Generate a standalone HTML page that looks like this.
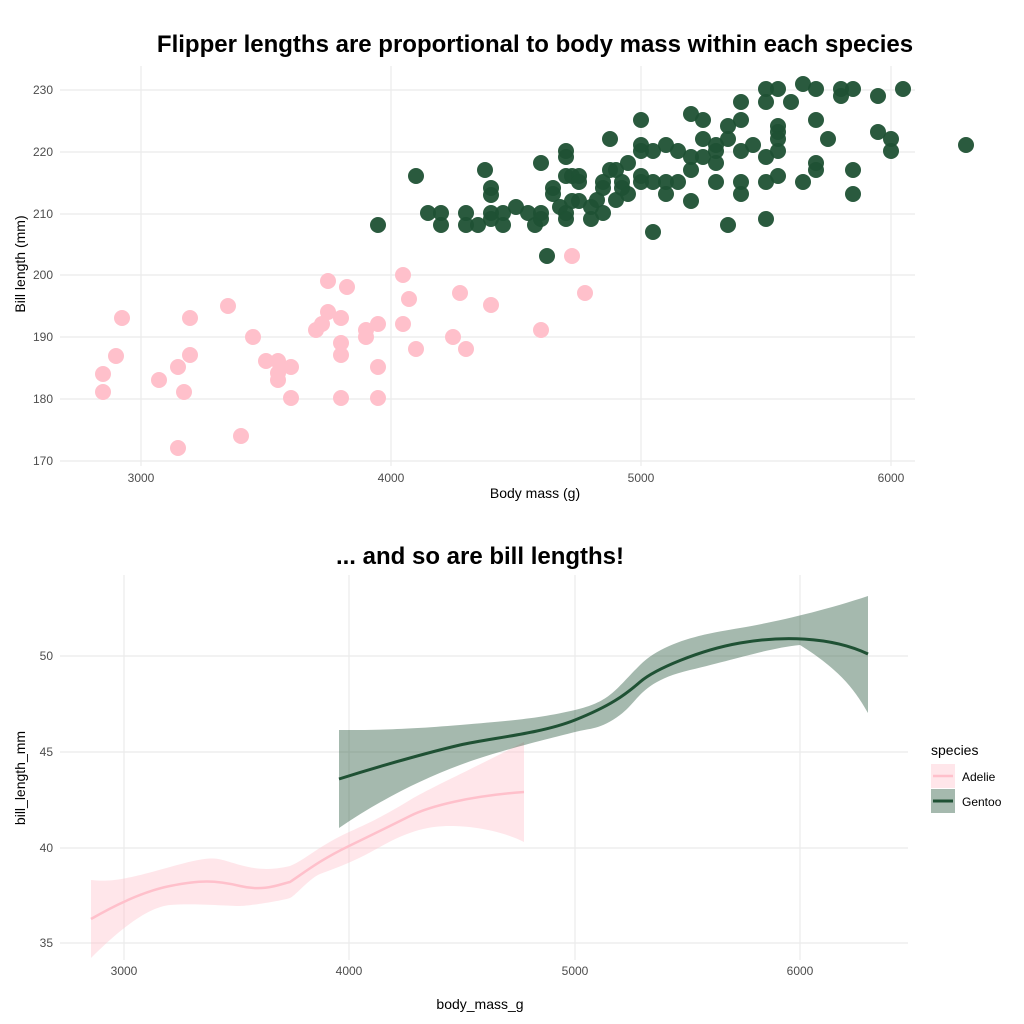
<!DOCTYPE html>
<html><head><meta charset="utf-8"><style>
html,body{margin:0;padding:0;background:#fff}
svg{display:block;font-family:"Liberation Sans",sans-serif}
.t{font-size:12px;fill:#4d4d4d}
.g{stroke:#ebebeb;stroke-width:1.2}
.ttl{font-size:24px;font-weight:bold;fill:#000}
.al{font-size:14px;fill:#000}
</style></head><body>
<svg width="1024" height="1024" viewBox="0 0 1024 1024" xmlns="http://www.w3.org/2000/svg">
<text class="ttl" x="535" y="52" text-anchor="middle">Flipper lengths are proportional to body mass within each species</text>
<g>
<line class="g" x1="60" x2="915" y1="90" y2="90"/><line class="g" x1="60" x2="915" y1="152" y2="152"/>
<line class="g" x1="60" x2="915" y1="214" y2="214"/><line class="g" x1="60" x2="915" y1="275" y2="275"/>
<line class="g" x1="60" x2="915" y1="337" y2="337"/><line class="g" x1="60" x2="915" y1="399" y2="399"/>
<line class="g" x1="60" x2="915" y1="461" y2="461"/>
<line class="g" x1="141" x2="141" y1="66" y2="466"/><line class="g" x1="391" x2="391" y1="66" y2="466"/>
<line class="g" x1="641" x2="641" y1="66" y2="466"/><line class="g" x1="891" x2="891" y1="66" y2="466"/>
</g>
<g class="t" text-anchor="end">
<text x="53" y="94">230</text><text x="53" y="156">220</text><text x="53" y="218">210</text><text x="53" y="279">200</text><text x="53" y="341">190</text><text x="53" y="403">180</text><text x="53" y="465">170</text>
</g>
<g class="t" text-anchor="middle">
<text x="141" y="482">3000</text><text x="391" y="482">4000</text><text x="641" y="482">5000</text><text x="891" y="482">6000</text>
</g>
<text class="al" x="535" y="498" text-anchor="middle">Body mass (g)</text>
<text class="al" x="25" y="264" text-anchor="middle" transform="rotate(-90 25 264)">Bill length (mm)</text>
<g fill="#ffc0cb">
<circle cx="103" cy="374" r="8"/><circle cx="103" cy="392" r="8"/><circle cx="116" cy="356" r="8"/><circle cx="122" cy="318" r="8"/><circle cx="159" cy="380" r="8"/><circle cx="178" cy="367" r="8"/><circle cx="178" cy="448" r="8"/><circle cx="184" cy="392" r="8"/><circle cx="190" cy="318" r="8"/><circle cx="190" cy="355" r="8"/><circle cx="228" cy="306" r="8"/><circle cx="241" cy="436" r="8"/><circle cx="253" cy="337" r="8"/><circle cx="266" cy="361" r="8"/><circle cx="278" cy="361" r="8"/><circle cx="278" cy="373" r="8"/><circle cx="278" cy="380" r="8"/><circle cx="291" cy="367" r="8"/><circle cx="291" cy="398" r="8"/><circle cx="316" cy="330" r="8"/><circle cx="322" cy="324" r="8"/><circle cx="328" cy="281" r="8"/><circle cx="328" cy="312" r="8"/><circle cx="341" cy="318" r="8"/><circle cx="341" cy="343" r="8"/><circle cx="341" cy="355" r="8"/><circle cx="341" cy="398" r="8"/><circle cx="347" cy="287" r="8"/><circle cx="366" cy="330" r="8"/><circle cx="366" cy="337" r="8"/><circle cx="378" cy="324" r="8"/><circle cx="378" cy="367" r="8"/><circle cx="378" cy="398" r="8"/><circle cx="403" cy="275" r="8"/><circle cx="403" cy="324" r="8"/><circle cx="409" cy="299" r="8"/><circle cx="416" cy="349" r="8"/><circle cx="453" cy="337" r="8"/><circle cx="460" cy="293" r="8"/><circle cx="466" cy="349" r="8"/><circle cx="491" cy="305" r="8"/><circle cx="541" cy="330" r="8"/><circle cx="572" cy="256" r="8"/><circle cx="585" cy="293" r="8"/>
</g>
<g fill="#1f5134" fill-opacity="0.95">
<circle cx="378" cy="225" r="8"/><circle cx="416" cy="176" r="8"/><circle cx="428" cy="213" r="8"/><circle cx="441" cy="213" r="8"/><circle cx="441" cy="225" r="8"/><circle cx="466" cy="213" r="8"/><circle cx="466" cy="225" r="8"/><circle cx="478" cy="225" r="8"/><circle cx="485" cy="170" r="8"/><circle cx="491" cy="188" r="8"/><circle cx="491" cy="195" r="8"/><circle cx="491" cy="213" r="8"/><circle cx="491" cy="219" r="8"/><circle cx="503" cy="213" r="8"/><circle cx="503" cy="225" r="8"/><circle cx="516" cy="207" r="8"/><circle cx="528" cy="213" r="8"/><circle cx="535" cy="225" r="8"/><circle cx="541" cy="213" r="8"/><circle cx="541" cy="219" r="8"/><circle cx="541" cy="163" r="8"/><circle cx="547" cy="256" r="8"/><circle cx="553" cy="188" r="8"/><circle cx="553" cy="194" r="8"/><circle cx="560" cy="207" r="8"/><circle cx="566" cy="151" r="8"/><circle cx="566" cy="157" r="8"/><circle cx="566" cy="176" r="8"/><circle cx="566" cy="213" r="8"/><circle cx="566" cy="219" r="8"/><circle cx="572" cy="201" r="8"/><circle cx="572" cy="176" r="8"/><circle cx="579" cy="176" r="8"/><circle cx="579" cy="182" r="8"/><circle cx="579" cy="201" r="8"/><circle cx="591" cy="219" r="8"/><circle cx="591" cy="207" r="8"/><circle cx="597" cy="200" r="8"/><circle cx="603" cy="182" r="8"/><circle cx="603" cy="188" r="8"/><circle cx="603" cy="213" r="8"/><circle cx="610" cy="139" r="8"/><circle cx="610" cy="170" r="8"/><circle cx="616" cy="170" r="8"/><circle cx="616" cy="200" r="8"/><circle cx="622" cy="182" r="8"/><circle cx="622" cy="188" r="8"/><circle cx="628" cy="194" r="8"/><circle cx="628" cy="163" r="8"/><circle cx="641" cy="120" r="8"/><circle cx="641" cy="145" r="8"/><circle cx="641" cy="151" r="8"/><circle cx="641" cy="176" r="8"/><circle cx="641" cy="182" r="8"/><circle cx="653" cy="182" r="8"/><circle cx="653" cy="151" r="8"/><circle cx="653" cy="232" r="8"/><circle cx="666" cy="145" r="8"/><circle cx="666" cy="182" r="8"/><circle cx="666" cy="194" r="8"/><circle cx="678" cy="182" r="8"/><circle cx="678" cy="151" r="8"/><circle cx="691" cy="114" r="8"/><circle cx="691" cy="157" r="8"/><circle cx="691" cy="170" r="8"/><circle cx="691" cy="201" r="8"/><circle cx="703" cy="120" r="8"/><circle cx="703" cy="139" r="8"/><circle cx="703" cy="157" r="8"/><circle cx="716" cy="145" r="8"/><circle cx="716" cy="151" r="8"/><circle cx="716" cy="163" r="8"/><circle cx="716" cy="182" r="8"/><circle cx="728" cy="126" r="8"/><circle cx="728" cy="139" r="8"/><circle cx="728" cy="225" r="8"/><circle cx="741" cy="102" r="8"/><circle cx="741" cy="120" r="8"/><circle cx="741" cy="151" r="8"/><circle cx="741" cy="182" r="8"/><circle cx="741" cy="194" r="8"/><circle cx="753" cy="145" r="8"/><circle cx="766" cy="89" r="8"/><circle cx="766" cy="102" r="8"/><circle cx="766" cy="157" r="8"/><circle cx="766" cy="182" r="8"/><circle cx="766" cy="219" r="8"/><circle cx="778" cy="89" r="8"/><circle cx="778" cy="126" r="8"/><circle cx="778" cy="132" r="8"/><circle cx="778" cy="139" r="8"/><circle cx="778" cy="151" r="8"/><circle cx="778" cy="176" r="8"/><circle cx="791" cy="102" r="8"/><circle cx="803" cy="84" r="8"/><circle cx="803" cy="182" r="8"/><circle cx="816" cy="89" r="8"/><circle cx="816" cy="120" r="8"/><circle cx="816" cy="163" r="8"/><circle cx="816" cy="170" r="8"/><circle cx="828" cy="139" r="8"/><circle cx="841" cy="89" r="8"/><circle cx="841" cy="96" r="8"/><circle cx="853" cy="89" r="8"/><circle cx="853" cy="170" r="8"/><circle cx="853" cy="194" r="8"/><circle cx="878" cy="96" r="8"/><circle cx="878" cy="132" r="8"/><circle cx="891" cy="139" r="8"/><circle cx="891" cy="151" r="8"/><circle cx="903" cy="89" r="8"/><circle cx="966" cy="145" r="8"/>
</g>

<text class="ttl" x="480" y="564" text-anchor="middle">... and so are bill lengths!</text>
<g>
<line class="g" x1="60" x2="908" y1="656" y2="656"/><line class="g" x1="60" x2="908" y1="752" y2="752"/>
<line class="g" x1="60" x2="908" y1="848" y2="848"/><line class="g" x1="60" x2="908" y1="943" y2="943"/>
<line class="g" x1="124" x2="124" y1="575" y2="960"/><line class="g" x1="349" x2="349" y1="575" y2="960"/>
<line class="g" x1="575" x2="575" y1="575" y2="960"/><line class="g" x1="800" x2="800" y1="575" y2="960"/>
</g>
<g class="t" text-anchor="end">
<text x="53" y="660">50</text><text x="53" y="756">45</text><text x="53" y="852">40</text><text x="53" y="947">35</text>
</g>
<g class="t" text-anchor="middle">
<text x="124" y="975">3000</text><text x="349" y="975">4000</text><text x="575" y="975">5000</text><text x="800" y="975">6000</text>
</g>
<text class="al" x="480" y="1009" text-anchor="middle">body_mass_g</text>
<text class="al" x="25" y="778" text-anchor="middle" transform="rotate(-90 25 778)">bill_length_mm</text>

<path fill="#ffc0cb" fill-opacity="0.4" d="M91,880 C110,882 124,880 170,867 S215,858 240,865 S280,868 290,866 C305,860 320,845 349,832 S390,812 410,800 S470,770 524,742 L524,842 C500,830 470,826 450,826 S410,830 380,847 S330,870 320,874 S295,896 290,898 S250,906 240,906 S190,903 170,905 S124,925 91,958 Z"/>
<path fill="none" stroke="#ffc0cb" stroke-width="2.5" d="M91,919 C110,908 140,892 170,886 S215,880 240,886 S280,884 290,882 C305,872 320,860 349,846 S390,826 410,816 S470,796 524,792"/>
<path fill="#1f5134" fill-opacity="0.4" d="M339,730 C370,730 400,730 460,725 S540,718 575,710 S615,690 640,665 S710,633 740,628 S820,612 868,596 L868,713 C855,690 840,670 800,645 C770,648 740,658 690,670 S640,700 620,715 S590,728 575,732 S500,750 460,765 S380,800 339,828 Z"/>
<path fill="none" stroke="#1f5134" stroke-width="3" d="M339,779 C380,766 430,752 460,745 S540,734 575,720 S625,695 640,682 S700,650 740,643 S830,636 868,654"/>

<text x="931" y="755" style="font-size:14px" fill="#000">species</text>
<rect x="931" y="764" width="24" height="24" fill="#ffc0cb" fill-opacity="0.4"/>
<line x1="933" x2="953" y1="776" y2="776" stroke="#ffc0cb" stroke-width="2.5"/>
<rect x="931" y="789" width="24" height="24" fill="#1f5134" fill-opacity="0.4"/>
<line x1="933" x2="953" y1="801" y2="801" stroke="#1f5134" stroke-width="3"/>
<text x="962" y="781" style="font-size:12px" fill="#000">Adelie</text>
<text x="962" y="806" style="font-size:12px" fill="#000">Gentoo</text>
</svg>
</body></html>
